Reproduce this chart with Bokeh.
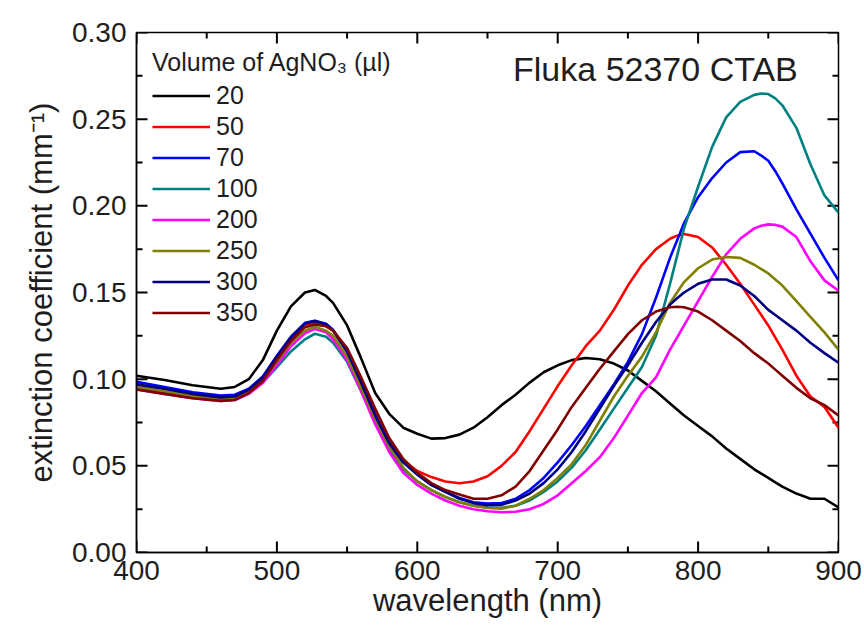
from bokeh.plotting import figure
from bokeh.models import (Legend, LegendItem, Range1d, FixedTicker, Label, NumeralTickFormatter)
from bokeh.embed import file_html
from bokeh.resources import INLINE

# ---------------- data ----------------
wavelength = [400, 420, 440, 460, 470, 480, 490, 500, 510, 520, 527, 535, 540, 550, 560, 570,
              580, 590, 600, 610, 620, 630, 640, 650, 660, 670, 680, 690, 700, 710, 720, 730,
              740, 750, 760, 770, 780, 785, 790, 800, 810, 820, 830, 840, 845, 850, 855, 860,
              870, 880, 890, 900]

v20 = [.102, .0995, .0965, .0945, .0955, .100, .111, .128, .142, .150, .1515, .148, .144, .131,
       .112, .092, .080, .072, .0685, .0657, .066, .068, .072, .078, .085, .091, .098, .104, .108,
       .111, .1122, .1115, .109, .105, .099, .093, .086,
       .0825, .079, .073, .067, .060, .054, .048, .0455, .043, .0405, .038, .034, .031, .031, .026]
v50 = [.097, .0945, .0915, .0895, .090, .094, .101, .113, .124, .1315, .1325, .131, .128, .116,
       .098, .080, .064, .053, .047, .0435, .041, .040, .041, .044, .050, .058, .070, .083, .096,
       .108, .119, .128, .140, .154, .166, .175, .181,
       .1828, .1838, .182, .176, .166, .155, .143, .137, .131, .124, .117, .102, .090, .084, .072]
v70 = [.0985, .0955, .0925, .0905, .091, .0945, .1015, .1135, .1245, .1325, .1337, .132, .1285,
       .116, .098, .079, .063, .052, .045, .039, .035, .0315, .029, .0282, .0285, .031, .036, .043,
       .052, .062, .073, .085, .097, .110, .126, .147, .170,
       .180, .190, .205, .216, .225, .231, .2315, .229, .226, .220, .213, .198, .184, .170, .157]
v100 = [.095, .0925, .090, .0885, .089, .092, .098, .107, .116, .123, .1262, .1245, .121, .110,
        .093, .075, .059, .048, .041, .036, .032, .029, .027, .026, .0258, .027, .030, .035, .041,
        .049, .059, .071, .083, .095, .107, .125, .155,
        .171, .187, .211, .234, .251, .260, .264, .2648, .2645, .262, .258, .245, .224, .206, .196]
v200 = [.094, .0915, .089, .0875, .088, .0915, .098, .108, .119, .1265, .129, .127, .123, .111,
        .093, .074, .058, .046, .039, .034, .030, .027, .025, .0238, .0232, .0235, .025, .028, .033,
        .040, .047, .055, .066, .079, .092, .101, .117,
        .124, .131, .145, .159, .172, .181, .187, .1885, .1893, .189, .188, .182, .168, .157, .151]
v250 = [.0955, .093, .0905, .0885, .089, .093, .0995, .110, .121, .128, .1302, .128, .125, .113,
        .095, .077, .061, .049, .041, .036, .032, .029, .027, .0257, .0253, .027, .031, .036, .043,
        .051, .062, .076, .090, .102, .113, .127, .144,
        .150, .156, .164, .169, .1705, .170, .166, .1635, .161, .1575, .154, .145, .136, .127, .117]
v300 = [.097, .0945, .0915, .0895, .090, .094, .101, .113, .124, .132, .1335, .1315, .128, .116,
        .098, .079, .063, .052, .045, .039, .035, .031, .0285, .0273, .0275, .030, .034, .040, .048,
        .058, .070, .083, .096, .108, .121, .133, .143,
        .1467, .150, .155, .1575, .1575, .154, .148, .144, .140, .137, .134, .128, .121, .115, .1095]
v350 = [.094, .0915, .089, .0875, .088, .092, .099, .111, .122, .130, .1316, .1305, .128, .118,
        .101, .083, .066, .054, .046, .040, .036, .0335, .031, .031, .033, .038, .047, .059, .071,
        .084, .095, .106, .116, .126, .134, .139, .1415,
        .1418, .1415, .139, .134, .128, .122, .115, .112, .109, .1055, .102, .095, .089, .085, .079]

volumes = ["20", "50", "70", "100", "200", "250", "300", "350"]
series = [v20, v50, v70, v100, v200, v250, v300, v350]
colors = ["#000000", "#ff0000", "#0000ff", "#008080", "#ff00ff", "#808000", "#000080", "#800000"]

# tick positions
x_major = [400, 500, 600, 700, 800, 900]
x_minor = [450, 550, 650, 750, 850]
y_major = [0.0, 0.05, 0.10, 0.15, 0.20, 0.25, 0.30]
y_minor = [0.025, 0.075, 0.125, 0.175, 0.225, 0.275]
x_lim = [400, 900]
y_lim = [0.0, 0.30]

FONT = "Liberation Sans"
TXT = "#1e1e1e"

W, H = 864, 628
BL, BR, BT, BB = 136, 26, 32, 76

p = figure(width=W, height=H, output_backend="svg", toolbar_location=None,
           x_range=Range1d(x_lim[0], x_lim[1]), y_range=Range1d(y_lim[0], y_lim[1]),
           min_border_left=BL, min_border_right=BR, min_border_top=BT, min_border_bottom=BB,
           x_axis_label="wavelength (nm)", y_axis_label="extinction coefficient (mm\u207b\u00b9)")
p.xgrid.visible = False
p.ygrid.visible = False
p.outline_line_color = "black"
p.outline_line_width = 1.5
p.background_fill_color = "white"
p.border_fill_color = "white"

p.xaxis.ticker = FixedTicker(ticks=x_major)
p.yaxis.ticker = FixedTicker(ticks=y_major)
p.yaxis.formatter = NumeralTickFormatter(format="0.00")

for ax in (p.xaxis[0], p.yaxis[0]):
    ax.major_tick_in = 0
    ax.major_tick_out = 0
    ax.minor_tick_in = 0
    ax.minor_tick_out = 0
    ax.axis_line_width = 1.5
    ax.major_label_text_font = FONT
    ax.major_label_text_font_size = "28px"
    ax.major_label_text_color = TXT
    ax.axis_label_text_font = FONT
    ax.axis_label_text_font_size = "31px"
    ax.axis_label_text_font_style = "normal"
    ax.axis_label_text_color = TXT

p.xaxis.major_label_standoff = 8
p.xaxis.axis_label_standoff = 0
p.yaxis.major_label_standoff = 10
p.yaxis.axis_label_standoff = 10

# inward ticks on all four sides, each drawn as its own short line (length given in pixels)
dx_px = (x_lim[1] - x_lim[0]) / (W - BL - BR)
dy_px = (y_lim[1] - y_lim[0]) / (H - BT - BB)
for xs, ln in ((x_major, 11), (x_minor, 6)):
    for x in xs:
        p.line([x, x], [y_lim[0], y_lim[0] + ln * dy_px], line_color="black", line_width=2)
        p.line([x, x], [y_lim[1], y_lim[1] - ln * dy_px], line_color="black", line_width=2)
for ys, ln in ((y_major, 11), (y_minor, 6)):
    for y in ys:
        p.line([x_lim[0], x_lim[0] + ln * dx_px], [y, y], line_color="black", line_width=2)
        p.line([x_lim[1], x_lim[1] - ln * dx_px], [y, y], line_color="black", line_width=2)

items = []
for name, ys, c in zip(volumes, series, colors):
    r = p.line(wavelength, ys, line_color=c, line_width=2.6)
    items.append(LegendItem(label=name, renderers=[r]))

legend = Legend(items=items, location="top_left", title="Volume of AgNO\u2083 (\u00b5l)",
                title_text_font=FONT, title_text_font_size="25px", title_text_font_style="normal",
                title_text_color=TXT, title_standoff=4,
                label_text_font=FONT, label_text_font_size="25px", label_text_color=TXT,
                glyph_width=58, glyph_height=27, label_height=27, spacing=2, label_standoff=6,
                padding=8, margin=8, border_line_alpha=0, background_fill_alpha=0)
p.add_layout(legend)

p.add_layout(Label(x=871, y=0.279, text="Fluka 52370 CTAB", text_align="right",
                   text_baseline="middle", text_font=FONT, text_font_size="34px",
                   text_color=TXT))

open("out.html", "w").write(file_html(p, INLINE))
